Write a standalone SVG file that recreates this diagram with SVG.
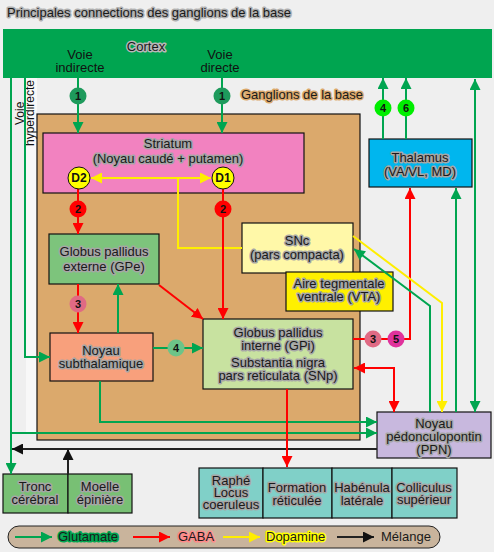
<svg xmlns="http://www.w3.org/2000/svg" width="494" height="552" viewBox="0 0 494 552">
<style>
.t{font-family:"Liberation Sans",Arial,Helvetica,sans-serif;font-size:13px;fill:#1a1a1a;stroke:#a6a6a6;stroke-width:3;stroke-linejoin:round;paint-order:stroke;text-anchor:middle}
.p{font-family:"Liberation Sans",Arial,Helvetica,sans-serif;font-size:12px;fill:#111;text-anchor:middle}
.n{font-family:"Liberation Sans",Arial,Helvetica,sans-serif;font-size:11px;font-weight:bold;fill:#111;text-anchor:middle}
.box{stroke:#111;stroke-width:1.2}
.g{stroke:#00a550;stroke-width:2;fill:none}
.r{stroke:#ff0000;stroke-width:2;fill:none}
.y{stroke:#ffee00;stroke-width:2;fill:none}
.k{stroke:#222;stroke-width:2;fill:none}
</style>
<defs>
<marker id="ag" viewBox="0 0 10 10" refX="10" refY="5" markerWidth="12" markerHeight="11" markerUnits="userSpaceOnUse" orient="auto-start-reverse"><path d="M0,0L10,5L0,10z" fill="#00a550"/></marker>
<marker id="ar" viewBox="0 0 10 10" refX="10" refY="5" markerWidth="11" markerHeight="11" markerUnits="userSpaceOnUse" orient="auto-start-reverse"><path d="M0,0L10,5L0,10z" fill="#ff0000"/></marker>
<marker id="ay" viewBox="0 0 10 10" refX="10" refY="5" markerWidth="11" markerHeight="11" markerUnits="userSpaceOnUse" orient="auto-start-reverse"><path d="M0,0L10,5L0,10z" fill="#ffee00"/></marker>
<marker id="ak" viewBox="0 0 10 10" refX="10" refY="5" markerWidth="12" markerHeight="11" markerUnits="userSpaceOnUse" orient="auto-start-reverse"><path d="M0,0L10,5L0,10z" fill="#111"/></marker>
</defs>
<rect width="494" height="552" fill="#efefef"/>
<rect x="26" y="78" width="11" height="354" fill="#f8f8f8"/>
<text class="t" x="7" y="17" style="text-anchor:start;stroke:#b0b0b0">Principales connections des ganglions de la base</text>

<g id="cortex">
<rect x="3" y="29" width="489" height="49" fill="#00a550"/>
<text class="t" x="146" y="51" style="stroke:#b8b8b8">Cortex</text>
<text class="p" x="80" y="59" style="font-size:13px">Voie</text>
<text class="p" x="80" y="72" style="font-size:13px">indirecte</text>
<text class="p" x="220" y="59" style="font-size:13px">Voie</text>
<text class="p" x="220" y="72" style="font-size:13px">directe</text>
</g>

<g id="ganglions">
<rect x="37" y="114" width="323" height="326" fill="#dba96c" class="box"/>
<text class="t" x="302" y="99" style="stroke:#dba96c">Ganglions de la base</text>
</g>

<g id="hyperdirecte-label">
<text class="p" transform="translate(23.5,125) rotate(-90)" style="text-anchor:start">Voie</text>
<text class="p" transform="translate(33.5,80) rotate(-90)" style="text-anchor:end">hyperdirecte</text>
</g>

<g id="striatum">
<rect x="43" y="133" width="261" height="60" fill="#f282c0" class="box"/>
<text class="t" x="168" y="148">Striatum</text>
<text class="t" x="168" y="163">(Noyau caudé + putamen)</text>
</g>

<g id="gpe">
<rect x="49" y="234" width="110" height="50" fill="#7dc47c" class="box"/>
<text class="t" x="104" y="256">Globus pallidus</text>
<text class="t" x="104" y="271">externe (GPe)</text>
</g>

<g id="snc">
<rect x="242" y="223" width="111" height="50" fill="#fff8a8" class="box"/>
<text class="t" x="297" y="245">SNc</text>
<text class="t" x="297" y="259">(pars compacta)</text>
</g>

<g id="vta">
<rect x="286" y="272" width="107" height="39" fill="#fff000" class="box"/>
<text class="t" x="339" y="288">Aire tegmentale</text>
<text class="t" x="339" y="301">ventrale (VTA)</text>
</g>

<g id="thalamus">
<rect x="369" y="139" width="103" height="48" fill="#00b6ee" class="box"/>
<text class="t" x="420" y="162">Thalamus</text>
<text class="t" x="420" y="176">(VA/VL, MD)</text>
</g>

<g id="stn">
<rect x="50" y="333" width="103" height="48" fill="#f8a07c" class="box"/>
<text class="t" x="101" y="355">Noyau</text>
<text class="t" x="101" y="368">subthalamique</text>
</g>

<g id="gpi">
<rect x="203" y="319" width="150" height="70" fill="#c8e2a0" class="box"/>
<text class="t" x="278" y="337">Globus pallidus</text>
<text class="t" x="278" y="350">interne (GPi)</text>
<text class="t" x="278" y="367">Substantia nigra</text>
<text class="t" x="278" y="380">pars reticulata (SNp)</text>
</g>

<g id="ppn">
<rect x="377" y="412" width="114" height="46" fill="#c8b8de" class="box"/>
<text class="t" x="434" y="428">Noyau</text>
<text class="t" x="434" y="441">pédonculopontin</text>
<text class="t" x="434" y="454">(PPN)</text>
</g>

<g id="tronc">
<rect x="3" y="474" width="65" height="39" fill="#78c074" class="box"/>
<text class="t" x="35" y="491">Tronc</text>
<text class="t" x="35" y="504">cérébral</text>
</g>
<g id="moelle">
<rect x="68" y="474" width="64" height="39" fill="#78c074" class="box"/>
<text class="t" x="100" y="491">Moelle</text>
<text class="t" x="100" y="504">épinière</text>
</g>

<g id="raphe">
<rect x="199" y="468" width="64" height="50" fill="#80d0c8" class="box"/>
<text class="t" x="231" y="485">Raphé</text>
<text class="t" x="231" y="497">Locus</text>
<text class="t" x="231" y="509">coeruleus</text>
</g>
<g id="formation">
<rect x="263" y="468" width="69" height="50" fill="#80d0c8" class="box"/>
<text class="t" x="297" y="492">Formation</text>
<text class="t" x="297" y="505">réticulée</text>
</g>
<g id="habenula">
<rect x="332" y="468" width="60" height="50" fill="#80d0c8" class="box"/>
<text class="t" x="362" y="492">Habénula</text>
<text class="t" x="362" y="505">latérale</text>
</g>
<g id="colliculus">
<rect x="392" y="468" width="65" height="50" fill="#80d0c8" class="box"/>
<text class="t" x="424" y="492">Colliculus</text>
<text class="t" x="424" y="504">supérieur</text>
</g>

<g id="connectors">
<line class="g" x1="78" y1="78" x2="78" y2="133" marker-end="url(#ag)"/>
<line class="g" x1="222" y1="78" x2="222" y2="133" marker-end="url(#ag)"/>
<line class="g" x1="383" y1="139" x2="383" y2="78" marker-end="url(#ag)"/>
<line class="g" x1="406" y1="139" x2="406" y2="78" marker-end="url(#ag)"/>
<line class="g" x1="475" y1="79" x2="475" y2="412" marker-start="url(#ag)" marker-end="url(#ag)"/>
<line class="g" x1="456" y1="412" x2="456" y2="188" marker-end="url(#ag)"/>
<polyline class="r" points="353,339 410,339 410,188" marker-end="url(#ar)"/>
<polyline class="r" points="354,368 394,368 394,412" marker-start="url(#ar)" marker-end="url(#ar)"/>
<polyline class="y" points="353,236 442,303 442,412" marker-end="url(#ay)"/>
<polyline class="g" points="430,412 430,306 354,249" marker-end="url(#ag)"/>
<line class="y" x1="91" y1="178" x2="211" y2="178" marker-start="url(#ay)" marker-end="url(#ay)"/>
<polyline class="y" points="178,178 178,248 242,248"/>
<line class="r" x1="78" y1="189" x2="78" y2="234" marker-end="url(#ar)"/>
<line class="r" x1="223" y1="189" x2="223" y2="319" marker-end="url(#ar)"/>
<line class="r" x1="78" y1="284" x2="78" y2="333" marker-end="url(#ar)"/>
<line class="g" x1="118" y1="333" x2="118" y2="284" marker-end="url(#ag)"/>
<line class="r" x1="159" y1="285" x2="203" y2="319" marker-end="url(#ar)"/>
<line class="g" x1="153" y1="348" x2="203" y2="348" marker-end="url(#ag)"/>
<polyline class="g" points="25,78 25,357 50,357" marker-end="url(#ag)"/>
<line class="g" x1="11" y1="78" x2="11" y2="474" marker-end="url(#ag)"/>
<polyline class="g" points="100,381 100,422 377,422" marker-end="url(#ag)"/>
<polyline class="g" points="11,433 377,433" marker-end="url(#ag)"/>
<line class="k" x1="377" y1="449" x2="12" y2="449" marker-end="url(#ak)"/>
<line class="k" x1="68" y1="474" x2="68" y2="449" marker-end="url(#ak)"/>
<line class="r" x1="287" y1="389" x2="287" y2="467" marker-end="url(#ar)"/>
<circle cx="78" cy="96" r="8.5" fill="#1e9a5c"/><text class="n" x="78" y="100">1</text>
<circle cx="222" cy="96" r="8.5" fill="#1e9a5c"/><text class="n" x="222" y="100">1</text>
<circle cx="383" cy="108" r="8.5" fill="#00ee00"/><text class="n" x="383" y="112">4</text>
<circle cx="406" cy="108" r="8.5" fill="#00ee00"/><text class="n" x="406" y="112">6</text>
<circle cx="78" cy="209" r="8.5" fill="#ff0000"/><text class="n" x="78" y="213">2</text>
<circle cx="223" cy="209" r="8.5" fill="#ff0000"/><text class="n" x="223" y="213">2</text>
<circle cx="78" cy="304" r="8.5" fill="#e06a84"/><text class="n" x="78" y="308">3</text>
<circle cx="176" cy="348" r="8.5" fill="#6cc488"/><text class="n" x="176" y="352">4</text>
<circle cx="373" cy="339" r="8.5" fill="#e06a84"/><text class="n" x="373" y="343">3</text>
<circle cx="396" cy="339" r="8.5" fill="#e0329c"/><text class="n" x="396" y="343">5</text>
</g>

<g id="d2"><circle cx="79" cy="178" r="11" fill="#ffff00" stroke="#111" stroke-width="1"/><text class="n" x="79" y="182" style="font-size:12px">D2</text></g>
<g id="d1"><circle cx="223" cy="178" r="11" fill="#ffff00" stroke="#111" stroke-width="1"/><text class="n" x="223" y="182" style="font-size:12px">D1</text></g>

<g id="legend">
<rect x="8" y="526" width="432" height="22" rx="11" fill="#c9b49c" stroke="#222" stroke-width="1"/>
<line class="g" x1="15" y1="537" x2="52" y2="537" marker-end="url(#ag)"/>
<text class="t" x="58" y="541" style="text-anchor:start;stroke:#00a550">Glutamate</text>
<line class="r" x1="133" y1="537" x2="170" y2="537" marker-end="url(#ar)"/>
<text class="t" x="178" y="541" style="text-anchor:start;stroke:#ff8a8a">GABA</text>
<line class="y" x1="223" y1="537" x2="260" y2="537" marker-end="url(#ay)"/>
<text class="t" x="266" y="541" style="text-anchor:start;stroke:#ffff00">Dopamine</text>
<line class="k" x1="337" y1="537" x2="374" y2="537" marker-end="url(#ak)"/>
<text class="t" x="381" y="541" style="text-anchor:start;stroke:none">Mélange</text>
</g>
</svg>
